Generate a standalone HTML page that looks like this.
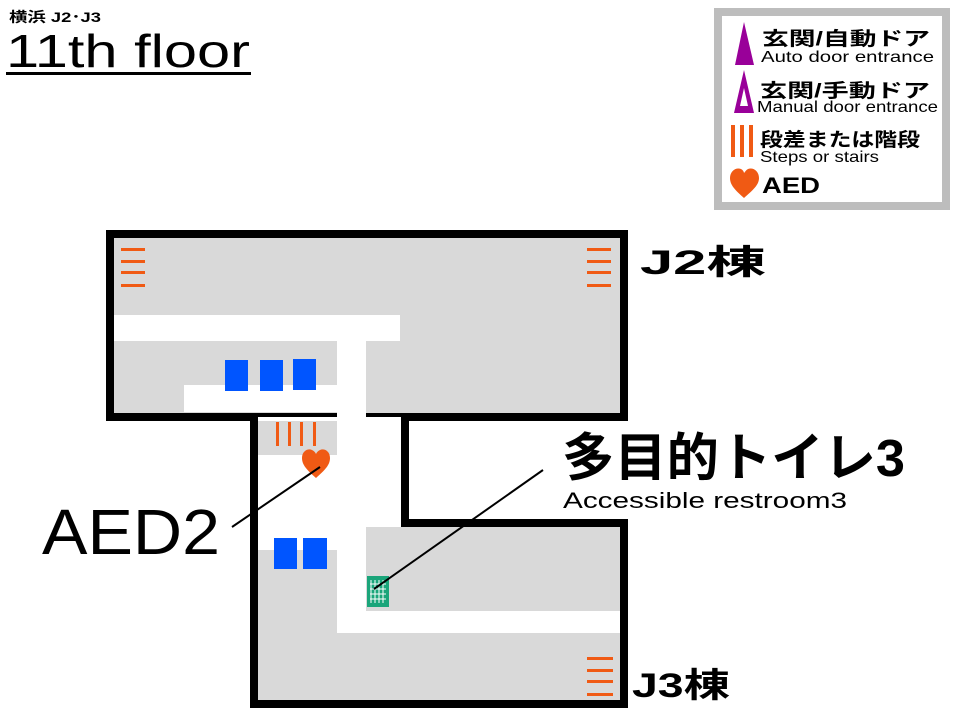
<!DOCTYPE html>
<html><head><meta charset="utf-8"><style>
html,body{margin:0;padding:0;background:#fff;width:960px;height:720px;overflow:hidden}
svg{display:block}
text{font-family:"Liberation Sans","Noto Sans CJK JP",sans-serif;fill:#000}
</style></head><body>
<svg width="960" height="720" viewBox="0 0 960 720" xmlns="http://www.w3.org/2000/svg">
<!-- title -->
<text x="9" y="22" font-size="14" font-weight="bold" textLength="92" lengthAdjust="spacingAndGlyphs">横浜 J2･J3</text>
<text x="6" y="67" font-size="46" textLength="244" lengthAdjust="spacingAndGlyphs">11th floor</text>
<rect x="6" y="72" width="245" height="3" fill="#000"/>

<!-- legend -->
<rect x="718" y="12" width="228" height="194" fill="#fff" stroke="#bdbdbd" stroke-width="8"/>
<polygon points="744,22 735,65 754,65" fill="#990099"/>
<text x="762" y="45" font-size="19" font-weight="bold" textLength="168" lengthAdjust="spacingAndGlyphs">玄関/自動ドア</text>
<text x="761" y="62" font-size="16" textLength="173" lengthAdjust="spacingAndGlyphs">Auto door entrance</text>
<polygon points="744,70 734,113 754,113" fill="#990099"/>
<polygon points="744,88 740,106 748,106" fill="#fff"/>
<text x="760" y="97" font-size="19" font-weight="bold" textLength="170" lengthAdjust="spacingAndGlyphs">玄関/手動ドア</text>
<text x="757" y="112" font-size="16" textLength="181" lengthAdjust="spacingAndGlyphs">Manual door entrance</text>
<rect x="731" y="125" width="4" height="32" fill="#f05a14"/>
<rect x="740" y="125" width="4" height="32" fill="#f05a14"/>
<rect x="749" y="125" width="4" height="32" fill="#f05a14"/>
<text x="760" y="146" font-size="19" font-weight="bold" textLength="160" lengthAdjust="spacingAndGlyphs">段差または階段</text>
<text x="760" y="162" font-size="16" textLength="119" lengthAdjust="spacingAndGlyphs">Steps or stairs</text>
<path d="M744,198 C735,190 730,185 730,178 C730,171 736,167 741,169 C743,170 744,172 744,173 C745,172 746,170 748,169 C753,167 759,171 759,178 C759,185 753,190 744,198 Z" fill="#f05a14"/>
<text x="762" y="193" font-size="22" font-weight="bold" textLength="58" lengthAdjust="spacingAndGlyphs">AED</text>

<!-- J2 building -->
<rect x="110" y="234" width="514" height="183" fill="#d9d9d9" stroke="#000" stroke-width="8"/>
<!-- middle + J3 outline -->
<path d="M254,417 L254,704 L624,704 L624,523 L405,523 L405,417" fill="#fff" stroke="#000" stroke-width="8"/>
<rect x="258" y="421" width="79" height="34" fill="#d9d9d9"/>
<rect x="258" y="550" width="79" height="150" fill="#d9d9d9"/>
<rect x="337" y="527" width="283" height="173" fill="#d9d9d9"/>
<!-- white corridors -->
<rect x="114" y="315" width="286" height="26" fill="#fff"/>
<rect x="184" y="385" width="153" height="27" fill="#fff"/>
<rect x="337" y="341" width="29" height="290" fill="#fff"/>
<rect x="337" y="611" width="283" height="22" fill="#fff"/>
<rect x="337" y="412" width="29" height="10" fill="#fff"/>
<!-- blue boxes -->
<rect x="225" y="360" width="23" height="31" fill="#0055ff"/>
<rect x="260" y="360" width="23" height="31" fill="#0055ff"/>
<rect x="293" y="359" width="23" height="31" fill="#0055ff"/>
<rect x="274" y="538" width="23" height="31" fill="#0055ff"/>
<rect x="303" y="538" width="24" height="31" fill="#0055ff"/>
<!-- stairs -->
<g fill="#f05a14">
<rect x="121" y="248" width="24" height="3"/><rect x="121" y="260" width="24" height="3"/><rect x="121" y="271" width="24" height="3"/><rect x="121" y="284" width="24" height="3"/>
<rect x="587" y="248" width="24" height="3"/><rect x="587" y="260" width="24" height="3"/><rect x="587" y="271" width="24" height="3"/><rect x="587" y="284" width="24" height="3"/>
<rect x="587" y="657" width="26" height="3"/><rect x="587" y="669" width="26" height="3"/><rect x="587" y="680" width="26" height="3"/><rect x="587" y="693" width="26" height="3"/>
<rect x="276" y="422" width="3" height="24"/><rect x="288" y="422" width="3" height="24"/><rect x="300" y="422" width="3" height="24"/><rect x="313" y="422" width="3" height="24"/>
</g>
<!-- heart AED -->
<path d="M316,478 C307,470 302,465 302,458 C302,451 308,448 312,450 C314,451 315,452 316,454 C317,452 318,451 320,450 C324,448 330,451 330,458 C330,465 325,470 316,478 Z" fill="#f05a14"/>
<!-- restroom icon -->
<rect x="367" y="576" width="22" height="31" fill="#1aa57a"/>
<g stroke="#fff" stroke-width="1">
<line x1="371" y1="580" x2="371" y2="603"/><line x1="375" y1="580" x2="375" y2="603"/><line x1="379" y1="580" x2="379" y2="603"/><line x1="383" y1="580" x2="383" y2="603"/>
<line x1="370" y1="584" x2="386" y2="584"/><line x1="370" y1="589" x2="386" y2="589"/><line x1="370" y1="594" x2="386" y2="594"/><line x1="370" y1="599" x2="386" y2="599"/>
</g>
<!-- leader lines -->
<line x1="232" y1="527" x2="320" y2="467" stroke="#000" stroke-width="2"/>
<line x1="543" y1="470" x2="374" y2="589" stroke="#000" stroke-width="2"/>
<!-- labels -->
<text x="42" y="554" font-size="64" textLength="178" lengthAdjust="spacingAndGlyphs">AED2</text>
<text x="562" y="476" font-size="52" font-weight="bold" textLength="343" lengthAdjust="spacingAndGlyphs">多目的トイレ3</text>
<text x="563" y="508" font-size="22" textLength="284" lengthAdjust="spacingAndGlyphs">Accessible restroom3</text>
<text x="640" y="274" font-size="34" font-weight="bold" textLength="126" lengthAdjust="spacingAndGlyphs">J2棟</text>
<text x="632" y="697" font-size="34" font-weight="bold" textLength="98" lengthAdjust="spacingAndGlyphs">J3棟</text>
</svg>
</body></html>
